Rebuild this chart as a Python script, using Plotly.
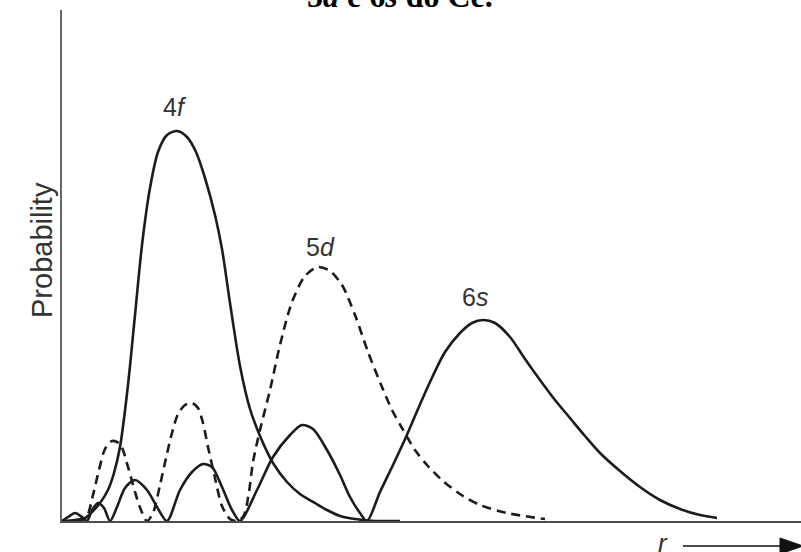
import plotly.graph_objects as go

# radial distance r (arb. units) and probability (arb. units)
r_4f = [0, 13, 23, 30, 38, 46, 52, 58, 66, 73, 80, 88, 96, 105, 115, 125, 134, 143, 153, 160, 168, 178, 188, 198, 211, 225, 238, 253, 265, 278, 293, 313, 338]
p_4f = [0, 1, 3, 9, 18, 31, 48, 74, 136, 206, 276, 333, 369, 386, 390, 384, 369, 343, 306, 272, 218, 155, 112, 85, 58, 39, 27, 18, 11, 5, 2, 0, 0]

r_5d = [0, 18, 25, 31, 37, 43, 50, 58, 66, 73, 79, 85, 91, 98, 104, 110, 116, 123, 130, 136, 141, 146, 153, 160, 168, 176,
        182, 187, 191, 198, 208, 218, 230, 243, 256, 268, 280, 293, 306, 320, 330, 340, 353, 365, 381, 401, 418, 445, 483]
p_5d = [0, 0, 5, 26, 51, 72, 80, 77, 54, 29, 11, 0, 8, 36, 63, 88, 107, 116, 118, 113, 98, 74, 43, 15, 2, 0,
        6, 29, 59, 91, 131, 176, 219, 245, 254, 250, 236, 206, 169, 134, 111, 93, 71, 56, 40, 25, 16, 8, 2]

r_6s = [0, 6, 13, 20, 25, 30, 36, 42, 48, 55, 63, 73, 85, 95, 105, 118, 130, 141, 150, 160, 170, 178,
        195, 211, 228, 240, 251, 265, 278, 288, 298, 305, 318, 331, 344, 356, 368, 383, 398, 410, 421,
        433, 448, 463, 478, 493, 508, 523, 538, 558, 578, 598, 618, 638, 655]
p_6s = [0, 4, 8, 4, 0, 11, 18, 13, 0, 14, 33, 41, 31, 14, 0, 31, 49, 57, 54, 34, 11, 0,
        31, 64, 86, 96, 92, 71, 46, 24, 8, 0, 29, 56, 84, 112, 139, 169, 188, 198, 201,
        198, 184, 162, 141, 121, 103, 85, 68, 50, 34, 21, 12, 6, 3]

labels = ["4<i>f</i>", "5<i>d</i>", "6<i>s</i>"]
label_r = [113, 258, 413]
label_p = [414, 274, 224]

W, H = 801, 552
L, R, T, B = 62, 0, 10, 31
pw, ph = W - L - R, H - T - B

def px_x(px):
    return (px - L) / pw

def px_y(py):
    return (H - B - py) / ph

ink = "#1c1c1c"
fig = go.Figure()
fig.add_trace(go.Scatter(x=r_4f, y=p_4f, mode="lines",
                         line=dict(color=ink, width=2.6, shape="spline", smoothing=0.8)))
fig.add_trace(go.Scatter(x=r_5d, y=p_5d, mode="lines",
                         line=dict(color=ink, width=2.6, dash="9px,6px", shape="spline", smoothing=0.8)))
fig.add_trace(go.Scatter(x=r_6s, y=p_6s, mode="lines",
                         line=dict(color=ink, width=2.6, shape="spline", smoothing=0.8)))

for t, x, y in zip(labels, label_r, label_p):
    fig.add_annotation(x=x, y=y, xref="x", yref="y", text=t, showarrow=False,
                       font=dict(family="Liberation Sans, Arial", size=25, color="#333"))

# y-axis title
fig.add_annotation(x=px_x(24), y=px_y(250), xref="paper", yref="paper", text="Probability",
                   textangle=-90, showarrow=False,
                   font=dict(family="Liberation Sans, Arial", size=29, color="#333"))
# r label
fig.add_annotation(x=px_x(670), y=0, xref="paper", yref="paper", text="<i>r</i>",
                   yanchor="middle", yshift=-22,
                   showarrow=False, font=dict(family="Liberation Sans, Arial", size=26, color="#333"))
# title (cut off at the top of the page)
fig.add_annotation(x=px_x(400), y=1, xref="paper", yref="paper",
                   text="<b>5<i>d</i> e 6<i>s</i> do Ce.</b>", showarrow=False,
                   yanchor="middle", yshift=14,
                   font=dict(family="Liberation Serif, Times New Roman", size=32, color="#000"))

# arrow next to r
fig.add_shape(type="line", xref="paper", yref="paper",
              x0=px_x(683), x1=px_x(785), y0=px_y(546), y1=px_y(546),
              line=dict(color="#111", width=1.6))
fig.add_shape(type="path", xref="paper", yref="paper",
              path=f"M {px_x(780)} {px_y(538)} L {px_x(803)} {px_y(546)} L {px_x(780)} {px_y(554)} Z",
              fillcolor="#111", line=dict(color="#111", width=1))

fig.update_layout(
    width=W, height=H, autosize=False,
    margin=dict(l=L, r=R, t=T, b=B, pad=0, autoexpand=False),
    paper_bgcolor="white", plot_bgcolor="white",
    showlegend=False,
    xaxis=dict(range=[0, pw], showgrid=False, zeroline=False, showticklabels=False, ticks="",
               showline=True, linecolor="#4d4d4d", linewidth=2),
    yaxis=dict(range=[0, ph], showgrid=False, zeroline=False, showticklabels=False, ticks="",
               showline=True, linecolor="#666", linewidth=1.5),
)

fig.write_html("out.html")
